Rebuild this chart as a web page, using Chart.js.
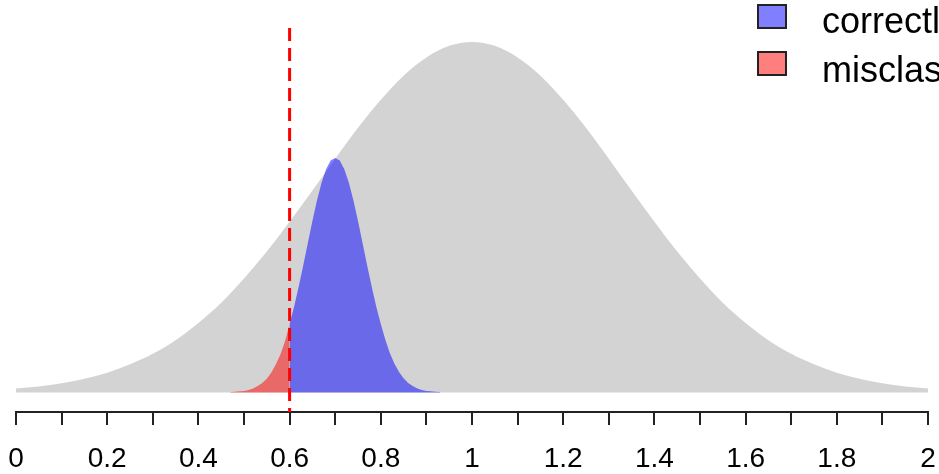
<!DOCTYPE html>
<html>
<head>
<meta charset="utf-8">
<script src="https://cdn.jsdelivr.net/npm/chart.js@4/dist/chart.umd.min.js"></script>
<style>
  html, body { margin: 0; padding: 0; background: #fff; }
  #wrap { width: 939px; height: 474px; }
</style>
</head>
<body>
<div id="wrap"><canvas id="densityChart" width="939" height="474"></canvas></div>
<script>
//! data (heights relative to the grey peak)
const grayX = [
  0, 0.05, 0.1, 0.15, 0.2, 0.25, 0.3, 0.35, 0.4, 0.45, 0.5, 0.55, 0.6, 0.65,
  0.7, 0.75, 0.8, 0.85, 0.9, 0.95, 1, 1.05, 1.1, 1.15, 1.2, 1.25, 1.3, 1.35,
  1.4, 1.45, 1.5, 1.55, 1.6, 1.65, 1.7, 1.75, 1.8, 1.85, 1.9, 1.95, 2,
];
const grayY = [
  0.011, 0.017, 0.026, 0.039, 0.056, 0.08, 0.11, 0.149, 0.198, 0.256, 0.325,
  0.402, 0.487, 0.576, 0.667, 0.755, 0.835, 0.904, 0.956, 0.989, 1.0, 0.989,
  0.956, 0.904, 0.835, 0.755, 0.667, 0.576, 0.487, 0.402, 0.325, 0.256, 0.198,
  0.149, 0.11, 0.08, 0.056, 0.039, 0.026, 0.017, 0.011,
];
const redX = [
  0.47, 0.48, 0.49, 0.5, 0.51, 0.52, 0.53, 0.54, 0.55, 0.56, 0.57, 0.58, 0.59,
  0.6,
];
const redY = [
  0.001, 0.0015, 0.003, 0.004, 0.007, 0.011, 0.018, 0.027, 0.039, 0.057, 0.08,
  0.109, 0.146, 0.195,
];
const blueX = [
  0.6, 0.61, 0.62, 0.63, 0.64, 0.65, 0.66, 0.67, 0.68, 0.69, 0.7, 0.71, 0.72,
  0.73, 0.74, 0.75, 0.76, 0.77, 0.78, 0.79, 0.8, 0.81, 0.82, 0.83, 0.84, 0.85,
  0.86, 0.87, 0.88, 0.89, 0.9, 0.91, 0.92, 0.93,
];
const blueY = [
  0.195, 0.245, 0.302, 0.363, 0.426, 0.489, 0.548, 0.598, 0.637, 0.662, 0.669,
  0.662, 0.637, 0.598, 0.548, 0.489, 0.426, 0.363, 0.302, 0.245, 0.195, 0.15,
  0.112, 0.082, 0.058, 0.04, 0.027, 0.018, 0.011, 0.007, 0.004, 0.003, 0.0015,
  0.001,
];
const cutoff = 0.6;
const legendLabels = ["correctly classified", "misclassified"];
const tickLabels = [
  "0", "0.2", "0.4", "0.6", "0.8", "1", "1.2", "1.4", "1.6", "1.8", "2",
];

const toPoints = (xs, ys) => xs.map((x, i) => ({ x: x, y: ys[i] }));

const BLUE = "rgba(0, 0, 255, 0.5)";
const RED = "rgba(255, 0, 0, 0.5)";

//! cutoff line + legend drawn by hand
const cutoffLine = {
  id: "cutoffLine",
  afterDatasetsDraw(chart) {
    const { ctx, chartArea, scales } = chart;
    const px = scales.x.getPixelForValue(cutoff);
    ctx.save();
    ctx.strokeStyle = "#ff0000";
    ctx.lineWidth = 3;
    ctx.setLineDash([13, 7]);
    ctx.beginPath();
    ctx.moveTo(px, chartArea.top);
    ctx.lineTo(px, chartArea.bottom);
    ctx.stroke();
    ctx.restore();
  },
};

const boxLegend = {
  id: "boxLegend",
  afterDraw(chart) {
    const ctx = chart.ctx;
    const fills = ["rgb(127,127,255)", "rgb(255,127,127)"];
    const rows = [
      { box: 5, base: 33 },
      { box: 52, base: 82 },
    ];
    ctx.save();
    legendLabels.forEach((label, i) => {
      ctx.fillStyle = fills[i];
      ctx.fillRect(758, rows[i].box, 28, 23);
      ctx.lineWidth = 2;
      ctx.strokeStyle = "#222";
      ctx.strokeRect(758, rows[i].box, 28, 23);
      ctx.fillStyle = "#000";
      ctx.font = "36px 'Liberation Sans', Arial, sans-serif";
      ctx.textBaseline = "alphabetic";
      ctx.fillText(label, 822, rows[i].base);
    });
    ctx.restore();
  },
};

const ctx = document.getElementById("densityChart").getContext("2d");
const densityChart = new Chart(ctx, {
  type: "line",
  data: {
    datasets: [
      {
        label: legendLabels[1],
        data: toPoints(redX, redY),
        backgroundColor: RED,
        borderWidth: 0,
        pointRadius: 0,
        fill: "origin",
        order: 1,
      },
      {
        label: legendLabels[0],
        data: toPoints(blueX, blueY),
        backgroundColor: BLUE,
        borderWidth: 0,
        pointRadius: 0,
        fill: "origin",
        order: 2,
      },
      {
        label: "all",
        data: toPoints(grayX, grayY),
        backgroundColor: "#d3d3d3",
        borderWidth: 0,
        pointRadius: 0,
        fill: "origin",
        cubicInterpolationMode: "monotone",
        order: 3,
      },
    ],
  },
  options: {
    responsive: false,
    animation: false,
    layout: { padding: { top: 28, left: 16, right: 11, bottom: 0 } },
    scales: {
      x: {
        type: "linear",
        min: 0,
        max: 2,
        afterFit: (s) => {
          s.height = 62;
          s.paddingLeft = 0;
          s.paddingRight = 0;
        },
        border: { display: true, color: "#222", width: 2 },
        grid: {
          drawOnChartArea: false,
          drawTicks: true,
          tickLength: 13,
          color: "#222",
          lineWidth: 2,
        },
        ticks: {
          stepSize: 0.1,
          autoSkip: false,
          maxRotation: 0,
          padding: 17,
          color: "#000",
          font: { family: "'Liberation Sans', Arial, sans-serif", size: 28 },
          callback: (v, i) => (i % 2 === 0 ? tickLabels[i / 2] : ""),
        },
      },
      y: {
        display: false,
        min: -0.056,
        max: 1.04,
      },
    },
    plugins: {
      legend: { display: false },
      tooltip: { enabled: false },
    },
  },
  plugins: [cutoffLine, boxLegend],
});
</script>
</body>
</html>
